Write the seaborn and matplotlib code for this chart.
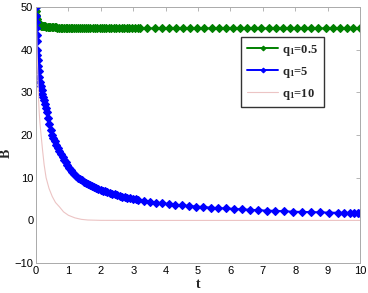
import numpy as np
import pandas as pd
import matplotlib
matplotlib.use("Agg")
import matplotlib.pyplot as plt
import seaborn as sns

# values
t_q05 = [0, 0.003, 0.006, 0.01, 0.015, 0.02, 0.03, 0.04, 0.055, 0.07,
         0.085, 0.10, 0.12, 0.14, 0.165, 0.19, 0.22, 0.25, 0.285, 0.32,
         0.36, 0.40, 0.44, 0.48, 0.525, 0.57, 0.615, 0.66, 0.71, 0.76,
         0.81, 0.86, 0.91, 0.96, 1.015, 1.07, 1.125, 1.18, 1.24, 1.30,
         1.36, 1.42, 1.485, 1.55, 1.615, 1.68, 1.75, 1.82, 1.89, 1.96,
         2.03, 2.10, 2.175, 2.25, 2.325, 2.40, 2.48, 2.56, 2.64, 2.72,
         2.80, 2.88, 2.965, 3.05, 3.135, 3.22, 3.44, 3.66, 3.88, 4.10,
         4.32, 4.54, 4.76, 4.98, 5.20, 5.42, 5.64, 5.86, 6.08, 6.30,
         6.52, 6.74, 6.96, 7.18, 7.40, 7.62, 7.84, 8.06, 8.28, 8.50,
         8.72, 8.94, 9.16, 9.38, 9.60, 9.80, 10.0]
B_q05 = [50.0, 49.0, 48.2, 47.5, 47.1, 46.8, 46.6, 46.4, 46.25, 46.1,
         46.0, 45.9, 45.8, 45.7, 45.65, 45.6, 45.55, 45.5, 45.45, 45.4,
         45.37, 45.35, 45.32, 45.3, 45.27, 45.25, 45.22, 45.2, 45.2, 45.2,
         45.17, 45.15, 45.12, 45.1, 45.1, 45.1, 45.07, 45.05, 45.05, 45.05,
         45.02, 45.0, 45.0, 45.0, 45.0, 45.0, 45.0, 45.0, 45.0, 45.0,
         45.0, 45.0, 45.0, 45.0, 45.0, 45.0, 45.0, 45.0, 45.0, 45.0,
         45.0, 45.0, 45.0, 45.0, 45.0, 45.0, 45.0, 45.0, 45.0, 45.0,
         45.0, 45.0, 45.0, 45.0, 45.0, 45.0, 45.0, 45.0, 45.0, 45.0,
         45.0, 45.0, 45.0, 45.0, 45.0, 45.0, 45.0, 45.0, 45.0, 45.0,
         45.0, 45.0, 45.0, 45.0, 45.0, 45.0, 45.0]

t_q5 = [0, 0.003, 0.006, 0.01, 0.015, 0.02, 0.03, 0.04, 0.05, 0.065,
        0.08, 0.10, 0.12, 0.145, 0.17, 0.195, 0.22, 0.25, 0.28, 0.31,
        0.34, 0.375, 0.41, 0.45, 0.49, 0.535, 0.58, 0.625, 0.67, 0.72,
        0.77, 0.82, 0.87, 0.92, 0.97, 1.02, 1.07, 1.125, 1.18, 1.235,
        1.29, 1.35, 1.41, 1.47, 1.53, 1.595, 1.66, 1.725, 1.79, 1.855,
        1.92, 1.99, 2.06, 2.13, 2.20, 2.275, 2.35, 2.425, 2.50, 2.58,
        2.66, 2.74, 2.82, 2.905, 2.99, 3.075, 3.16, 3.34, 3.52, 3.71,
        3.90, 4.10, 4.30, 4.51, 4.72, 4.94, 5.16, 5.39, 5.62, 5.86,
        6.10, 6.35, 6.60, 6.86, 7.12, 7.39, 7.66, 7.94, 8.22, 8.50,
        8.78, 9.06, 9.32, 9.52, 9.68, 9.82, 9.93, 10.0]
B_q5 = [50.0, 48.0, 46.5, 45.0, 43.5, 42.0, 40.0, 38.7, 37.5, 36.2,
        35.0, 33.7, 32.5, 31.4, 30.5, 29.7, 29.0, 28.2, 27.3, 26.3,
        25.3, 23.9, 22.5, 21.2, 20.0, 19.2, 18.5, 17.7, 16.9, 16.2,
        15.5, 14.8, 14.2, 13.6, 13.0, 12.4, 11.9, 11.4, 10.9, 10.4,
        10.0, 9.7, 9.4, 9.1, 8.8, 8.55, 8.3, 8.05, 7.8, 7.6,
        7.4, 7.2, 7.0, 6.8, 6.6, 6.45, 6.3, 6.1, 5.9, 5.75,
        5.6, 5.45, 5.3, 5.17, 5.05, 4.92, 4.8, 4.6, 4.4, 4.2,
        4.0, 3.85, 3.7, 3.55, 3.4, 3.25, 3.15, 3.0, 2.9, 2.8,
        2.7, 2.6, 2.5, 2.4, 2.3, 2.25, 2.15, 2.05, 2.0, 1.95,
        1.9, 1.83, 1.8, 1.77, 1.75, 1.73, 1.71, 1.7]

t_q10 = [0, 0.02, 0.04, 0.06, 0.08, 0.10, 0.12, 0.155, 0.20, 0.25, 0.31, 0.40,
         0.50, 0.60, 0.72, 0.85, 1.0, 1.2, 1.4, 1.6, 2.0, 3.0, 4.0, 5.0, 6.0,
         7.0, 8.0, 9.0, 10.0]
B_q10 = [50.0, 44.0, 38.0, 32.5, 28.0, 25.0, 22.8, 20.0, 16.5, 13.0, 10.0, 7.5,
         5.6, 4.2, 3.2, 2.0, 1.2, 0.6, 0.25, 0.1, 0.02, 0.0, 0.0, 0.0, 0.0,
         0.0, 0.0, 0.0, 0.0]

labels = ["q$_\\mathrm{1}$=0.5", "q$_\\mathrm{1}$=5", "q$_\\mathrm{1}$=10"]
x_ticks = [0, 1, 2, 3, 4, 5, 6, 7, 8, 9, 10]
y_ticks = [-10, 0, 10, 20, 30, 40, 50]

sns.set_style("white")
plt.rcParams["font.family"] = ["Liberation Sans", "DejaVu Sans"]
plt.rcParams["mathtext.fontset"] = "custom"
plt.rcParams["mathtext.rm"] = "Liberation Serif:bold"
plt.rcParams["mathtext.it"] = "Liberation Serif:bold"

fig = plt.figure(figsize=(3.68, 2.93), dpi=100, facecolor="white")
ax = fig.add_axes([0.098, 0.102, 0.88, 0.874])

sns.lineplot(x=t_q05, y=B_q05, ax=ax, color="#008000", marker="D",
             markersize=4, markeredgewidth=0.8, markeredgecolor="#008000",
             linewidth=1.4, label=labels[0], estimator=None, sort=False)
sns.lineplot(x=t_q5, y=B_q5, ax=ax, color="#0000ff", marker="D",
             markersize=4, markeredgewidth=0.8, markeredgecolor="#0000ff",
             linewidth=1.4, label=labels[1], estimator=None, sort=False)
sns.lineplot(x=t_q10, y=B_q10, ax=ax, color="#ecc4c4", linewidth=0.8,
             label=labels[2], estimator=None, sort=False)

ax.set_xlim(0, 10)
ax.set_ylim(-10, 50)
ax.set_xticks(x_ticks)
ax.set_yticks(y_ticks)
ax.tick_params(direction="in", length=3, width=0.5, color="#999999",
               labelsize=8, labelcolor="black", top=True, right=True, pad=2)
for s in ax.spines.values():
    s.set_color("#aaaaaa")
    s.set_linewidth(0.7)

ax.set_xlabel("t", fontsize=10, fontweight="bold", family="Liberation Serif")
ax.set_ylabel("B", fontsize=10, fontweight="bold", family="Liberation Serif")
ax.xaxis.set_label_coords(0.5, -0.058)
ax.yaxis.set_label_coords(-0.072, 0.43)

leg = ax.legend(loc="upper right", bbox_to_anchor=(0.888, 0.882), fancybox=False,
                frameon=True, edgecolor="black", handlelength=2.5,
                prop={"family": "Liberation Serif", "weight": "bold", "size": 9},
                borderpad=0.45, labelspacing=0.55, handletextpad=0.3,
                borderaxespad=0, markerscale=0.6)
leg.get_frame().set_linewidth(1.0)

plt.savefig("out.png", dpi=100, facecolor="white")
